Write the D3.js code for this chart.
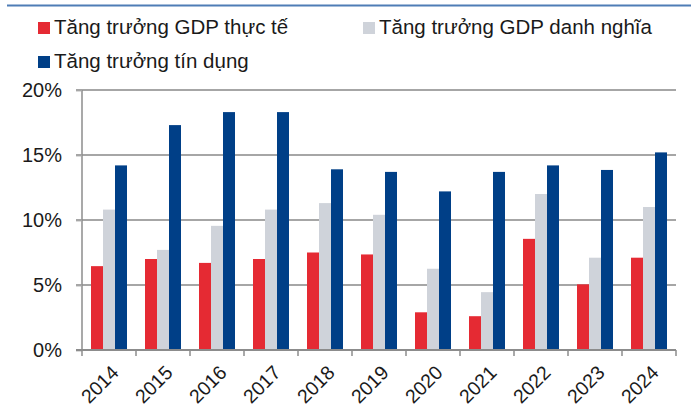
<!DOCTYPE html>
<html>
<head>
<meta charset="utf-8">
<script src="https://cdn.jsdelivr.net/npm/d3@7/dist/d3.min.js"></script>
<style>
  html, body { margin: 0; padding: 0; background: #fff; }
  svg { display: block; font-family: "Liberation Sans", Arial, sans-serif; }
</style>
</head>
<body>
<svg id="chart" width="691" height="408"></svg>
<script>
// Yearly growth rates (%)
const years = ["2014","2015","2016","2017","2018","2019","2020","2021","2022","2023","2024"];
const realGdp    = [6.45, 7.0, 6.7, 7.0, 7.5, 7.35, 2.9, 2.6, 8.55, 5.05, 7.1];
const nominalGdp = [10.8, 7.7, 9.55, 10.8, 11.3, 10.4, 6.25, 4.45, 12.0, 7.1, 11.0];
const creditGrowth = [14.2, 17.3, 18.3, 18.3, 13.9, 13.7, 12.2, 13.7, 14.2, 13.85, 15.2];
const seriesNames = ["Tăng trưởng GDP thực tế", "Tăng trưởng GDP danh nghĩa", "Tăng trưởng tín dụng"];
const seriesColors = ["#e52a33", "#cfd3da", "#003f87"];
const yTicks = [0, 5, 10, 15, 20];

const series = [realGdp, nominalGdp, creditGrowth];
const svg = d3.select("#chart");

// top rule
svg.append("rect").attr("x", 7).attr("y", 4.5).attr("width", 684).attr("height", 2).attr("fill", "#4f7db6");

const plotLeft = 82, plotRight = 676, plotTop = 90, plotBottom = 350;

const x = d3.scaleBand().domain(years).range([plotLeft, plotRight]).paddingInner(1/3).paddingOuter(1/6);
const xs = d3.scaleBand().domain(d3.range(series.length)).range([0, x.bandwidth()]);
const y = d3.scaleLinear().domain([0, 20]).range([plotBottom, plotTop]);

// gridlines
svg.append("g").selectAll("line").data(yTicks.filter(t => t > 0)).join("line")
  .attr("x1", plotLeft - 6).attr("x2", plotRight).attr("y1", d => y(d)).attr("y2", d => y(d))
  .attr("stroke", "#a6a6a6").attr("stroke-width", 1.8);

// bars
series.forEach((vals, si) => {
  svg.append("g").selectAll("rect").data(vals).join("rect")
    .attr("x", (d, i) => x(years[i]) + xs(si))
    .attr("width", xs.bandwidth())
    .attr("y", d => y(d))
    .attr("height", d => y(0) - y(d))
    .attr("fill", seriesColors[si]);
});

// y axis
const yAxis = d3.axisLeft(y).tickValues(yTicks).tickFormat(d => d + "%").tickSize(6).tickPadding(14);
const gy = svg.append("g").attr("transform", `translate(${plotLeft},0)`).call(yAxis);
gy.select(".domain").attr("stroke", "#8c8c8c").attr("stroke-width", 1.5).attr("d", `M0,${plotTop}V${plotBottom}`);
gy.selectAll(".tick line").attr("stroke", "#a6a6a6").attr("stroke-width", 1.8);
gy.selectAll(".tick text").attr("font-size", 20).attr("fill", "#1a1a1a").attr("font-family", "Liberation Sans, Arial, sans-serif");

// x axis with boundary ticks
svg.append("line").attr("x1", plotLeft - 6).attr("x2", plotRight).attr("y1", plotBottom).attr("y2", plotBottom)
  .attr("stroke", "#8c8c8c").attr("stroke-width", 1.8);
const step = x.step();
const bounds = d3.range(years.length + 1).map(i => plotLeft + i * step);
svg.append("g").selectAll("line").data(bounds).join("line")
  .attr("x1", d => d).attr("x2", d => d).attr("y1", plotBottom).attr("y2", plotBottom + 6)
  .attr("stroke", "#8c8c8c").attr("stroke-width", 1.5);

svg.append("g").selectAll("text").data(years).join("text")
  .attr("transform", d => `translate(${x(d) + x.bandwidth() / 2 + 1},${plotBottom + 14}) rotate(-45)`)
  .attr("text-anchor", "end")
  .attr("dy", "0.72em")
  .attr("font-size", 19.5).attr("fill", "#1a1a1a")
  .text(d => d);

// legend
const legendPos = [[38, 34], [363, 34], [38, 68]];
const lg = svg.append("g");
seriesNames.forEach((name, i) => {
  const [lx, ly] = legendPos[i];
  lg.append("rect").attr("x", lx).attr("y", ly - 12).attr("width", 12).attr("height", 12).attr("fill", seriesColors[i]);
  lg.append("text").attr("x", lx + 16).attr("y", ly).attr("font-size", 20.5).attr("fill", "#1a1a1a").text(name);
});
</script>
</body>
</html>
